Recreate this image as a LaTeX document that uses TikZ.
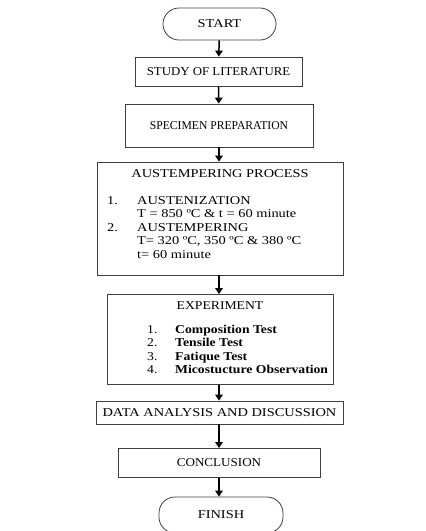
\documentclass[tikz,border=0pt]{standalone}
\usepackage{fontspec}
\setmainfont[FakeStretch=1.2]{Liberation Serif}
\newfontfamily\stStudy[FakeStretch=1.07]{Liberation Serif}
\newfontfamily\stSpec[FakeStretch=0.97]{Liberation Serif}
\newfontfamily\stExp[FakeStretch=1.14]{Liberation Serif}
\newfontfamily\stConc[FakeStretch=1.09]{Liberation Serif}
\usetikzlibrary{arrows.meta}
\begin{document}
\begin{tikzpicture}[x=1pt,y=-1pt,
  box/.style={draw=black!75, line width=0.8pt, inner sep=0pt, font=\fontsize{12}{13.5}\selectfont},
  term/.style={box, rounded corners=16pt},
  txt/.style={inner sep=0pt, anchor=base west, font=\fontsize{12}{13.5}\selectfont},
  ctxt/.style={inner sep=0pt, anchor=base, font=\fontsize{12}{13.5}\selectfont},
  etxt/.style={txt, font=\fontsize{12}{13.5}\stExp},
  btxt/.style={txt, font=\fontsize{12}{13.5}\stExp\bfseries},
  flow/.style={line width=1.5pt, -{Triangle[length=6pt,width=7.5pt]}}]
\useasboundingbox (0,0) rectangle (426,531);
\node[term, minimum width=113, minimum height=32] (start) at (219.5,24) {START};
\node[box, minimum width=167, minimum height=29, font=\fontsize{12}{13.5}\stStudy] (study) at (218.5,71.5) {STUDY OF LITERATURE};
\node[box, minimum width=188, minimum height=43, font=\fontsize{12}{13.5}\stSpec] (spec) at (219,125.5) {SPECIMEN PREPARATION};
\node[box, minimum width=246, minimum height=113] (aus) at (220,218.5) {};
\node[ctxt] (austitle) at (220,177) {AUSTEMPERING PROCESS};
\node[txt] (n1) at (107,204) {1.};
\node[txt] (a1) at (137,204) {AUSTENIZATION};
\node[txt] (a2) at (137,217.5) {T = 850 ºC \& t = 60 minute};
\node[txt] (n2) at (107,231) {2.};
\node[txt] (a3) at (137,231) {AUSTEMPERING};
\node[txt] (a4) at (137,244.5) {T= 320 ºC, 350 ºC \& 380 ºC};
\node[txt] (a5) at (137,258) {t= 60 minute};
\node[box, minimum width=226, minimum height=90] (exp) at (220,339.5) {};
\node[ctxt, font=\fontsize{12}{13.5}\stExp] (exptitle) at (220,309) {EXPERIMENT};
\node[etxt] (e1n) at (147,333) {1.};
\node[btxt] (e1) at (175,333) {Composition Test};
\node[etxt] (e2n) at (147,346.5) {2.};
\node[btxt] (e2) at (175,346.5) {Tensile Test};
\node[etxt] (e3n) at (147,360) {3.};
\node[btxt] (e3) at (175,360) {Fatique Test};
\node[etxt] (e4n) at (147,373.5) {4.};
\node[btxt] (e4) at (175,373.5) {Micostucture Observation};
\node[box, minimum width=247, minimum height=23] (data) at (219.5,412.5) {DATA ANALYSIS AND DISCUSSION};
\node[box, minimum width=202, minimum height=29, font=\fontsize{12}{13.5}\stConc] (conc) at (219,463) {CONCLUSION};
\node[term, minimum width=124, minimum height=36] (finish) at (221,515) {FINISH};
\draw[flow] (start) -- (study);
\draw[flow] (study) -- (spec);
\draw[flow] (spec) -- (spec|-aus.north);
\draw[flow] (aus.south-|spec) -- (spec|-exp.north);
\draw[flow] (exp.south-|spec) -- (spec|-data.north);
\draw[flow] (data.south-|spec) -- (spec|-conc.north);
\draw[flow] (conc.south-|spec) -- (spec|-finish.north);
\end{tikzpicture}
\end{document}
